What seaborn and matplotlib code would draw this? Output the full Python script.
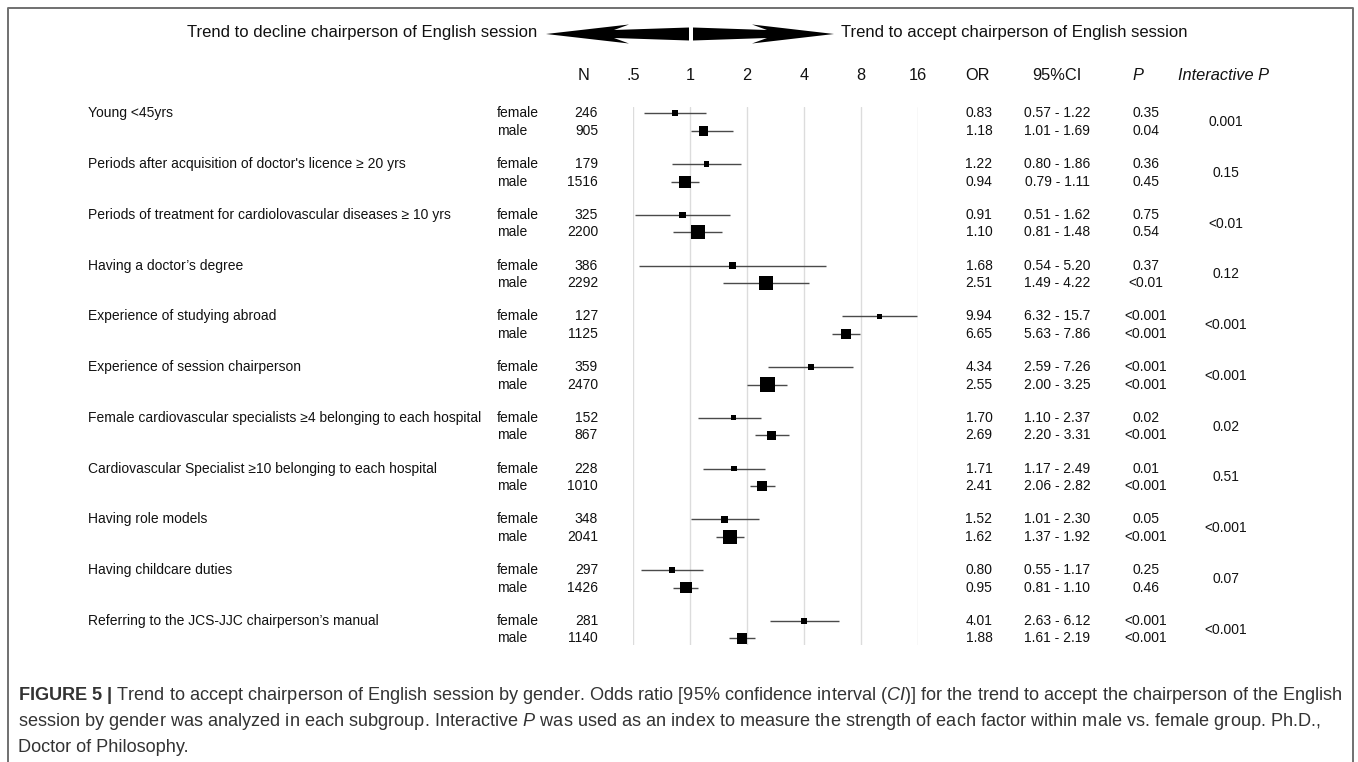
import numpy as np
import pandas as pd
import matplotlib
matplotlib.use('Agg')
import matplotlib.pyplot as plt
import matplotlib.transforms as mtransforms
from matplotlib.patches import Polygon
import seaborn as sns

# Subgroups and per-sex results
groups = ["Young <45yrs",
          "Periods after acquisition of doctor's licence \u2265 20 yrs",
          "Periods of treatment for cardiolovascular diseases \u2265 10 yrs",
          "Having a doctor\u2019s degree",
          "Experience of studying abroad",
          "Experience of session chairperson",
          "Female cardiovascular specialists \u22654 belonging to each hospital",
          "Cardiovascular Specialist \u226510 belonging to each hospital",
          "Having role models",
          "Having childcare duties",
          "Referring to the JCS-JJC chairperson\u2019s manual"]

female_n = [246, 179, 325, 386, 127, 359, 152, 228, 348, 297, 281]
male_n = [905, 1516, 2200, 2292, 1125, 2470, 867, 1010, 2041, 1426, 1140]

female_or = [0.83, 1.22, 0.91, 1.68, 9.94, 4.34, 1.70, 1.71, 1.52, 0.80, 4.01]
female_lo = [0.57, 0.80, 0.51, 0.54, 6.32, 2.59, 1.10, 1.17, 1.01, 0.55, 2.63]
female_hi = [1.22, 1.86, 1.62, 5.20, 15.7, 7.26, 2.37, 2.49, 2.30, 1.17, 6.12]
male_or = [1.18, 0.94, 1.10, 2.51, 6.65, 2.55, 2.69, 2.41, 1.62, 0.95, 1.88]
male_lo = [1.01, 0.79, 0.81, 1.49, 5.63, 2.00, 2.20, 2.06, 1.37, 0.81, 1.61]
male_hi = [1.69, 1.11, 1.48, 4.22, 7.86, 3.25, 3.31, 2.82, 1.92, 1.10, 2.19]

female_p = ["0.35", "0.36", "0.75", "0.37", "<0.001", "<0.001", "0.02", "0.01", "0.05", "0.25", "<0.001"]
male_p = ["0.04", "0.45", "0.54", "<0.01", "<0.001", "<0.001", "<0.001", "<0.001", "<0.001", "0.46", "<0.001"]
interactive_p = ["0.001", "0.15", "<0.01", "0.12", "<0.001", "<0.001", "0.02", "0.51", "<0.001", "0.07", "<0.001"]

ticks = [0.5, 1, 2, 4, 8, 16]
tick_labels = [".5", "1", "2", "4", "8", "16"]

# long table: female row at i, male row just below
gap = 0.345
rows = []
for i in range(len(groups)):
    rows.append(dict(group=groups[i], sex="female", y=i, N=female_n[i], OR=female_or[i],
                     lo=female_lo[i], hi=female_hi[i], p=female_p[i]))
    rows.append(dict(group=groups[i], sex="male", y=i + gap, N=male_n[i], OR=male_or[i],
                     lo=male_lo[i], hi=male_hi[i], p=male_p[i]))
df = pd.DataFrame(rows)

sns.set_theme(style='white')
plt.rcParams['font.family'] = ['Liberation Sans', 'DejaVu Sans']
plt.rcParams['mathtext.fontset'] = 'custom'
plt.rcParams['mathtext.rm'] = 'Liberation Sans'
plt.rcParams['mathtext.it'] = 'Liberation Sans:italic'
plt.rcParams['mathtext.bf'] = 'Liberation Sans:bold'

W, H = 1358, 762
fig = plt.figure(figsize=(W / 100, H / 100), dpi=100)

# background axes in pixel units for frame and arrow
bg = fig.add_axes([0, 0, 1, 1], zorder=-1)
bg.set_xlim(0, W)
bg.set_ylim(H, 0)
bg.axis('off')
bg.plot([8, 8, 1353, 1353], [H + 5, 8, 8, H + 5], color='#707070', lw=1.4)
left_arrow = [(546, 34), (629, 24.5), (614, 30), (689, 27.5), (689, 40.5), (614, 38), (629, 43.5)]
right_arrow = [(834, 34), (752, 24.5), (767, 30), (693, 27.5), (693, 40.5), (767, 38), (752, 43.5)]
bg.add_patch(Polygon(left_arrow, closed=True, color='black', lw=0))
bg.add_patch(Polygon(right_arrow, closed=True, color='black', lw=0))

fig.text(537 / W, 1 - 33 / H, "Trend to decline chairperson of English session",
         ha='right', va='center', fontsize=12, color='#111111')
fig.text(841 / W, 1 - 33 / H, "Trend to accept chairperson of English session",
         ha='left', va='center', fontsize=12, color='#111111')

# forest axes, log2 odds ratio scale
ax = fig.add_axes([633 / W, 1 - 645 / H, 285.3 / W, (645 - 107.3) / H])
ax.set_xscale('log', base=2)
ax.set_xlim(0.5, 16)
ax.set_ylim(10 + gap + 0.132, -0.118)
for t in ticks:
    ax.axvline(t, color='#dcdcdc', lw=1, zorder=0)
ax.hlines(df['y'], df['lo'], df['hi'], color='#4a4a4a', lw=1, zorder=2)
sns.scatterplot(data=df, x='OR', y='y', size='N', sizes=(13, 117), size_norm=(127, 2470),
                marker='s', color='black', linewidth=0, legend=False, ax=ax, zorder=3)
ax.set_xticks(ticks)
ax.set_xticklabels(tick_labels)
ax.minorticks_off()
ax.xaxis.tick_top()
ax.tick_params(axis='x', length=0, pad=17.5, labelsize=11.8, labelcolor='#111111')
ax.set_yticks([])
ax.set_xlabel('')
ax.set_ylabel('')
for s in ax.spines.values():
    s.set_visible(False)

# header row, baseline matched to the top tick labels
hy = 1 - 80 / H
hfs = 11.8
fig.text(584 / W, hy, "N", ha='center', va='baseline', fontsize=hfs, color='#111111')
fig.text(978 / W, hy, "OR", ha='center', va='baseline', fontsize=hfs, color='#111111')
fig.text(1057 / W, hy, "95%CI", ha='center', va='baseline', fontsize=hfs, color='#111111')
fig.text(1138 / W, hy, "P", ha='center', va='baseline', fontsize=hfs, style='italic', color='#111111')
fig.text(1224 / W, hy, "Interactive P", ha='center', va='baseline', fontsize=hfs, style='italic', color='#111111')

# table text, x in figure fraction, y in data rows
tr = mtransforms.blended_transform_factory(fig.transFigure, ax.transData)
fs = 10
for i, g in enumerate(groups):
    ax.text(88 / W, i, g, transform=tr, ha='left', va='center', fontsize=fs, color='#111111')
    ax.text(1226 / W, i + gap / 2, interactive_p[i], transform=tr, ha='center', va='center',
            fontsize=fs, color='#111111')
for _, r in df.iterrows():
    ax.text(497 / W, r['y'], r['sex'], transform=tr, ha='left', va='center', fontsize=fs, color='#111111')
    ax.text(598 / W, r['y'], str(r['N']), transform=tr, ha='right', va='center', fontsize=fs, color='#111111')
    ax.text(979 / W, r['y'], f"{r['OR']:.2f}", transform=tr, ha='center', va='center', fontsize=fs, color='#111111')
    ci = f"{r['lo']:.2f} - {r['hi']:.2f}" if r['hi'] < 10 else f"{r['lo']:.2f} - {r['hi']:.1f}"
    ax.text(1057 / W, r['y'], ci, transform=tr, ha='center', va='center', fontsize=fs, color='#111111')
    ax.text(1146 / W, r['y'], r['p'], transform=tr, ha='center', va='center', fontsize=fs, color='#111111')

# caption
cap = [r"$\mathbf{FIGURE\ 5\ |}$ Trend to accept chairperson of English session by gender. Odds ratio [95% confidence interval ($\mathit{CI}$)] for the trend to accept the chairperson of the English",
       r"session by gender was analyzed in each subgroup. Interactive $\mathit{P}$ was used as an index to measure the strength of each factor within male vs. female group. Ph.D.,",
       "Doctor of Philosophy."]
for k, line in enumerate(cap):
    fig.text(18 / W, 1 - (695 + 26.5 * k) / H, line, ha='left', va='center', fontsize=13.1, color='#333333')

fig.savefig('out.png', dpi=100)
